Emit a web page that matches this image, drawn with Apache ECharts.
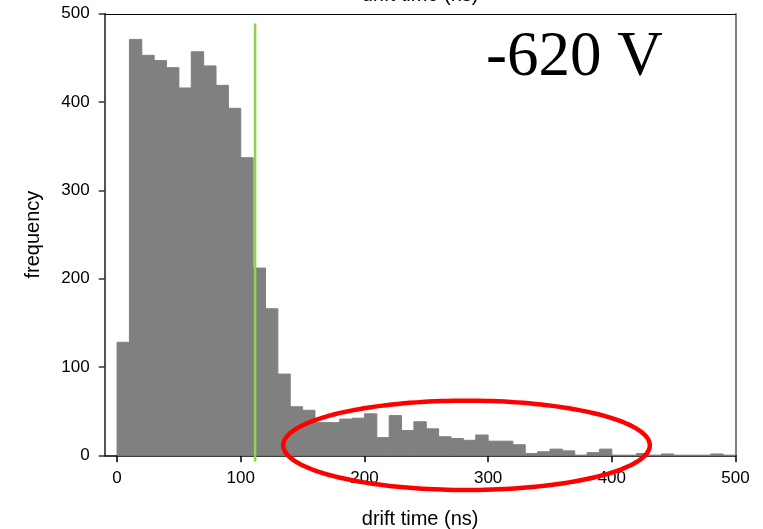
<!DOCTYPE html>
<html>
<head>
<meta charset="utf-8">
<script src="https://cdn.jsdelivr.net/npm/echarts@6/dist/echarts.min.js"></script>
<style>
html,body{margin:0;padding:0;background:#fff;}
#chart{width:763px;height:529px;}
</style>
</head>
<body>
<div id="chart"></div>
<script>
// histogram bins (left edges, ns) and counts
const binLeft = [0,10,20,30,40,50,60,70,80,90,100,110,120,130,140,150,160,170,180,190,200,210,220,230,240,250,260,270,280,290,300,310,320,330,340,350,360,370,380,390,400,410,420,430,440,450,460,470,480,490];
const binWidth = 10;
const frequency = [128,471,453,447,439,416,457,441,419,393,337,212,166,92,55,51,37,37,41,42,47,20,45,28,38,30,21,19,17,23,16,16,12,2,4,7,5,0,3,7,0,0,2,0,1.5,0,0,0,1.5,0];
const xTicks = [0,100,200,300,400,500];
const yTicks = [0,100,200,300,400,500];
// vertical marker (ns) and its extent in frequency units
const markerX = 111.6;
const markerSpan = [-7, 489];
// highlight ellipse: centre (ns, freq) and radii (ns, freq)
const ellipse = [282.5, 11.3, 148.2, 50.6];
const voltageLabel = '-620 V';
const xName = 'drift time (ns)';
const yName = 'frequency';

const barData = binLeft.map((l, i) => [l, l + binWidth, frequency[i]]);

const chart = echarts.init(document.getElementById('chart'));
const font = 'Liberation Sans, Arial, sans-serif';
chart.setOption({
  animation: false,
  title: {
    text: voltageLabel,
    left: 486, top: 27, padding: 0,
    textStyle: {fontFamily: 'Liberation Serif, Times New Roman, serif', fontSize: 63, fontWeight: 'normal', color: '#000'}
  },
  grid: {left: 104.7, right: 27.5, top: 13.8, bottom: 73.7, show: false, containLabel: false, outerBoundsMode: 'none'},
  xAxis: [{
    type: 'value', min: -10, max: 500, position: 'bottom',
    name: xName, nameLocation: 'middle', nameGap: 54,
    nameTextStyle: {fontFamily: font, fontSize: 20, color: '#000'},
    axisLine: {show: true, onZero: false, lineStyle: {color: '#000', width: 1.5}},
    axisTick: {show: true, length: 7, customValues: xTicks, lineStyle: {color: '#000', width: 1.5}},
    axisLabel: {customValues: xTicks, margin: 15, fontFamily: font, fontSize: 17, color: '#000'},
    splitLine: {show: false}
  }, {
    type: 'value', min: -10, max: 500, position: 'top',
    name: xName, nameLocation: 'middle', nameGap: 8,
    nameTextStyle: {fontFamily: font, fontSize: 20, color: '#000'},
    axisLine: {show: true, onZero: false, lineStyle: {color: '#000', width: 1}},
    axisTick: {show: false}, axisLabel: {show: false}, splitLine: {show: false}
  }],
  yAxis: [{
    type: 'value', min: 0, max: 500, interval: 100, position: 'left',
    name: yName, nameLocation: 'middle', nameGap: 61,
    nameTextStyle: {fontFamily: font, fontSize: 20, color: '#000'},
    axisLine: {show: true, onZero: false, lineStyle: {color: '#555', width: 2}},
    axisTick: {show: true, length: 6, lineStyle: {color: '#333', width: 1.5}},
    axisLabel: {margin: 15, fontFamily: font, fontSize: 17, color: '#000'},
    splitLine: {show: false}
  }, {
    type: 'value', min: 0, max: 500, position: 'right',
    axisLine: {show: true, onZero: false, lineStyle: {color: '#555', width: 1.5}},
    axisTick: {show: false}, axisLabel: {show: false}, splitLine: {show: false}
  }],
  series: [{
    type: 'custom',
    xAxisIndex: 0, yAxisIndex: 0,
    encode: {x: [0, 1], y: 2},
    data: barData,
    renderItem: function (params, api) {
      const p0 = api.coord([api.value(0), api.value(2)]);
      const p1 = api.coord([api.value(1), 0]);
      return {
        type: 'rect',
        shape: {x: p0[0], y: p0[1], width: p1[0] - p0[0], height: p1[1] - p0[1]},
        style: {fill: '#808080', stroke: '#808080', lineWidth: 1}
      };
    }
  }, {
    type: 'line',
    xAxisIndex: 0, yAxisIndex: 0,
    data: [[markerX, markerSpan[0]], [markerX, markerSpan[1]]],
    symbol: 'none', clip: false,
    lineStyle: {color: '#92D050', width: 2.5},
    z: 5
  }, {
    type: 'custom',
    xAxisIndex: 0, yAxisIndex: 0,
    clip: false,
    data: [ellipse],
    z: 6,
    renderItem: function (params, api) {
      const c = api.coord([api.value(0), api.value(1)]);
      const e = api.coord([api.value(0) + api.value(2), api.value(1) + api.value(3)]);
      const rx = e[0] - c[0], ry = c[1] - e[1];
      const pts = [];
      for (let k = 0; k < 180; k++) {
        const t = k / 180 * Math.PI * 2;
        pts.push([c[0] + rx * Math.cos(t), c[1] + ry * Math.sin(t)]);
      }
      return {
        type: 'polygon',
        shape: {points: pts},
        style: {fill: 'none', stroke: '#FF0000', lineWidth: 4.5}
      };
    }
  }]
});
</script>
</body>
</html>
